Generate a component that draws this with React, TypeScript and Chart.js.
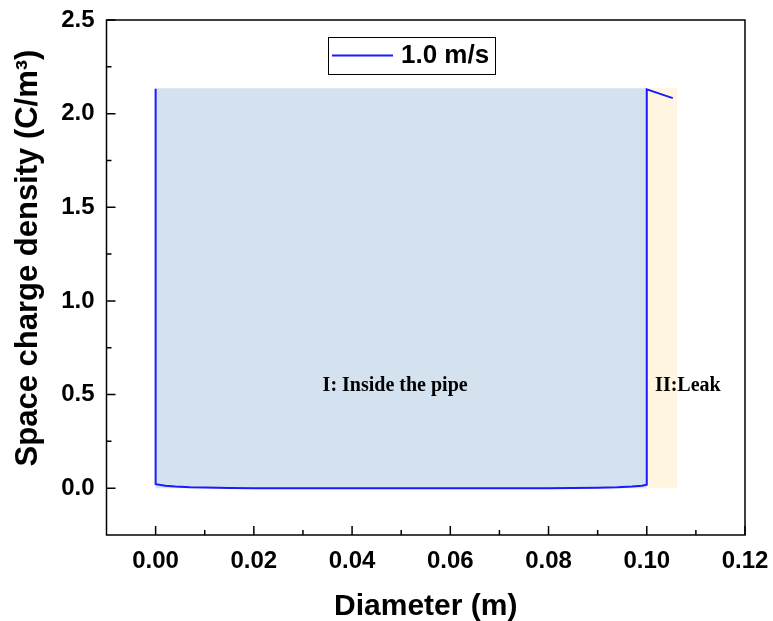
import React, { useEffect, useRef } from "react";
import { Chart, registerables } from "chart.js";

Chart.register(...registerables);

// Axis ticks
const xTicks = [0, 0.02, 0.04, 0.06, 0.08, 0.1, 0.12];
const xMinorTicks = [0.01, 0.03, 0.05, 0.07, 0.09, 0.11];
const yTicks = [0, 0.5, 1.0, 1.5, 2.0, 2.5];
const yMinorTicks = [0.25, 0.75, 1.25, 1.75, 2.25];

// Space charge density profile across the pipe and into the leak
const seriesLabel = "1.0 m/s";
const profileX = [0, 0, 0.002, 0.004, 0.007, 0.01, 0.015, 0.02, 0.03, 0.05, 0.07, 0.08, 0.085, 0.09, 0.094, 0.097, 0.099, 0.1, 0.1, 0.1053];
const profileY = [2.133, 0.021, 0.013, 0.009, 0.005, 0.003, 0.001, 0.0, 0.0, 0.0, 0.0, 0.0, 0.001, 0.002, 0.005, 0.009, 0.013, 0.019, 2.13, 2.083];

// Shaded regions: I (inside the pipe) and II (leak)
const regionTop = 2.136;
const pipeRegionX = [0, 0.1];
const leakRegionX = [0.1, 0.1062];
const pipeRegionLabel = "I: Inside the pipe";
const leakRegionLabel = "II:Leak";

const SANS = "Arial, 'Liberation Sans', sans-serif";
const SERIF = "'Times New Roman', 'Liberation Serif', serif";

const frame = {
  id: "frame",
  afterDatasetsDraw(chart: any) {
    const { ctx, chartArea } = chart;
    const xs = chart.scales.x;
    const ys = chart.scales.y;
    ctx.save();
    ctx.strokeStyle = "#000";
    ctx.lineWidth = 1.5;
    // inward tick marks
    ctx.beginPath();
    xTicks.forEach((v) => {
      const px = xs.getPixelForValue(v);
      ctx.moveTo(px, chartArea.bottom);
      ctx.lineTo(px, chartArea.bottom - 9);
    });
    xMinorTicks.forEach((v) => {
      const px = xs.getPixelForValue(v);
      ctx.moveTo(px, chartArea.bottom);
      ctx.lineTo(px, chartArea.bottom - 5);
    });
    yTicks.forEach((v) => {
      const py = ys.getPixelForValue(v);
      ctx.moveTo(chartArea.left, py);
      ctx.lineTo(chartArea.left + 9, py);
    });
    yMinorTicks.forEach((v) => {
      const py = ys.getPixelForValue(v);
      ctx.moveTo(chartArea.left, py);
      ctx.lineTo(chartArea.left + 5, py);
    });
    ctx.stroke();
    // frame
    ctx.strokeRect(chartArea.left, chartArea.top, chartArea.right - chartArea.left, chartArea.bottom - chartArea.top);

    // region labels
    ctx.fillStyle = "#000";
    ctx.font = `bold 20px ${SERIF}`;
    ctx.textAlign = "left";
    ctx.textBaseline = "alphabetic";
    ctx.fillText(pipeRegionLabel, xs.getPixelForValue(0.034), ys.getPixelForValue(0.52));
    ctx.fillText(leakRegionLabel, xs.getPixelForValue(0.1017), ys.getPixelForValue(0.52));

    // legend
    ctx.lineWidth = 1;
    ctx.strokeRect(328.5, 37.5, 167, 37);
    ctx.strokeStyle = "#1a1aff";
    ctx.lineWidth = 2;
    ctx.beginPath();
    ctx.moveTo(332, 55.5);
    ctx.lineTo(393, 55.5);
    ctx.stroke();
    ctx.fillStyle = "#000";
    ctx.font = `bold 26px ${SANS}`;
    ctx.textBaseline = "middle";
    ctx.fillText(seriesLabel, 401, 56);

    // axis titles
    ctx.font = `bold 30px ${SANS}`;
    ctx.textAlign = "center";
    ctx.textBaseline = "alphabetic";
    ctx.fillText("Diameter (m)", (chartArea.left + chartArea.right) / 2, 615);
    ctx.save();
    ctx.translate(37, 258);
    ctx.rotate(-Math.PI / 2);
    ctx.font = `bold 31px ${SANS}`;
    ctx.fillText("Space charge density (C/m³)", 0, 0);
    ctx.restore();
    ctx.restore();
  },
};

export default function App() {
  const canvasRef = useRef<HTMLCanvasElement>(null);

  useEffect(() => {
    const canvas = canvasRef.current;
    if (!canvas) return;
    const chart = new Chart(canvas, {
      type: "line",
      data: {
        datasets: [
          {
            label: seriesLabel,
            data: profileX.map((x, i) => ({ x, y: profileY[i] })),
            borderColor: "#1a1aff",
            borderWidth: 2,
            pointRadius: 0,
            fill: false,
            tension: 0,
            order: 0,
          },
          {
            label: "region I",
            data: pipeRegionX.map((x) => ({ x, y: regionTop })),
            borderWidth: 0,
            borderColor: "rgba(0,0,0,0)",
            backgroundColor: "#d4e1ee",
            pointRadius: 0,
            fill: "origin",
            order: 1,
          },
          {
            label: "region II",
            data: leakRegionX.map((x) => ({ x, y: regionTop })),
            borderWidth: 0,
            borderColor: "rgba(0,0,0,0)",
            backgroundColor: "#fff5e0",
            pointRadius: 0,
            fill: "origin",
            order: 2,
          },
        ],
      },
      options: {
        responsive: false,
        animation: false,
        layout: { padding: { top: 20, right: 28, left: 0, bottom: 0 } },
        plugins: { legend: { display: false }, tooltip: { enabled: false } },
        scales: {
          x: {
            type: "linear",
            min: -0.01,
            max: 0.12,
            afterBuildTicks: (s: any) => {
              s.ticks = xTicks.map((v) => ({ value: v }));
            },
            afterFit: (s: any) => {
              s.height = 86;
              s.paddingLeft = 0;
              s.paddingRight = 0;
            },
            grid: { display: false, drawTicks: false },
            border: { display: false },
            ticks: {
              padding: 12,
              color: "#000",
              font: { family: SANS, size: 24, weight: "bold" },
              callback: (v: any) => Number(v).toFixed(2),
              maxRotation: 0,
            },
          },
          y: {
            type: "linear",
            min: -0.25,
            max: 2.5,
            afterBuildTicks: (s: any) => {
              s.ticks = yTicks.map((v) => ({ value: v }));
            },
            afterFit: (s: any) => {
              s.width = 106.5;
              s.paddingTop = 0;
              s.paddingBottom = 0;
            },
            grid: { display: false, drawTicks: false },
            border: { display: false },
            ticks: {
              padding: 12,
              color: "#000",
              font: { family: SANS, size: 24, weight: "bold" },
              callback: (v: any) => Number(v).toFixed(1),
            },
          },
        },
      },
      plugins: [frame],
    });
    return () => chart.destroy();
  }, []);

  return (
    <div style={{ position: "fixed", left: 0, top: 0, width: 773, height: 621, background: "#fff" }}>
      <canvas ref={canvasRef} width={773} height={621} style={{ display: "block" }} />
    </div>
  );
}
